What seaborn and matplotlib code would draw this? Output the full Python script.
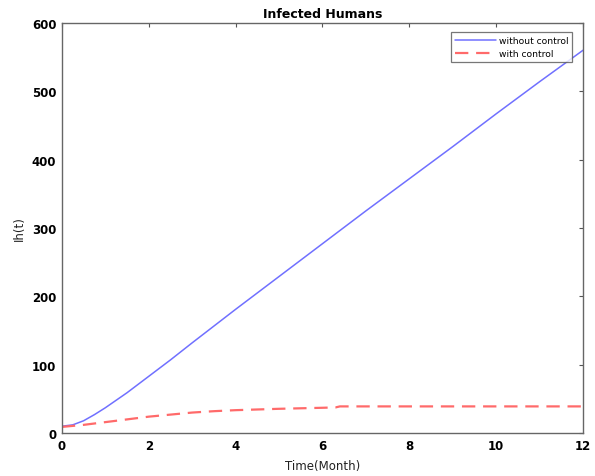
import matplotlib
matplotlib.use("Agg")
import matplotlib.pyplot as plt
import seaborn as sns
import pandas as pd

# Time samples (months) and infected-human counts
t_without = [0, 0.25, 0.5, 0.75, 1, 1.5, 2, 2.5, 3, 4, 5, 6, 7, 8, 9, 10, 11, 12]
ih_without = [10, 12, 18, 27, 37, 59, 83, 107, 132, 181, 229, 277, 325, 372, 419, 467, 514, 560]

t_with = [0, 0.5, 1, 1.5, 2, 2.5, 3, 3.5, 4, 5, 6, 6.3, 6.4, 7, 8, 9, 10, 11, 12]
ih_with = [9, 12, 16, 20, 24, 27, 30, 32, 33.5, 35.5, 37, 37.5, 39, 39, 39, 39, 39, 39, 39]

x_ticks = [0, 2, 4, 6, 8, 10, 12]
y_ticks = [0, 100, 200, 300, 400, 500, 600]

sns.set_style("white")
plt.rcParams["font.family"] = ["DejaVu Sans"]
plt.rcParams["text.color"] = "black"
plt.rcParams["axes.labelcolor"] = "#222222"

df_without = pd.DataFrame({"t": t_without, "ih": ih_without})
df_with = pd.DataFrame({"t": t_with, "ih": ih_with})

fig = plt.figure(figsize=(5.95, 4.77), dpi=100)
ax = fig.add_axes([0.104, 0.090, 0.876, 0.860])

sns.lineplot(data=df_without, x="t", y="ih", ax=ax, color="#7070ff",
             linewidth=1.1, label="without control")
sns.lineplot(data=df_with, x="t", y="ih", ax=ax, color="#ff6a6a",
             linewidth=1.6, linestyle=(0, (6, 3.5)), label="with control")

ax.set_xlim(0, 12)
ax.set_ylim(0, 600)
ax.set_xticks(x_ticks)
ax.set_yticks(y_ticks)
ax.tick_params(direction="in", length=3, width=0.8, labelsize=8.5,
               top=True, right=True, color="#555555", labelcolor="black", pad=4)
for lab in ax.get_xticklabels() + ax.get_yticklabels():
    lab.set_fontweight("bold")
for s in ax.spines.values():
    s.set_color("#666666")
    s.set_linewidth(1.0)

ax.set_title("Infected Humans", fontsize=9, fontweight="bold", pad=4)
ax.set_xlabel("Time(Month)", fontsize=8.5, labelpad=5)
ax.set_ylabel("Ih(t)", fontsize=8.5, labelpad=4)

leg = ax.legend(loc="upper right", fontsize=6.6, frameon=True, fancybox=False,
                handlelength=4.4, borderpad=0.45, labelspacing=0.4,
                handletextpad=0.3, bbox_to_anchor=(0.988, 0.988))
leg.get_frame().set_edgecolor("#555555")
leg.get_frame().set_linewidth(0.9)

fig.savefig("out.png", dpi=100)
